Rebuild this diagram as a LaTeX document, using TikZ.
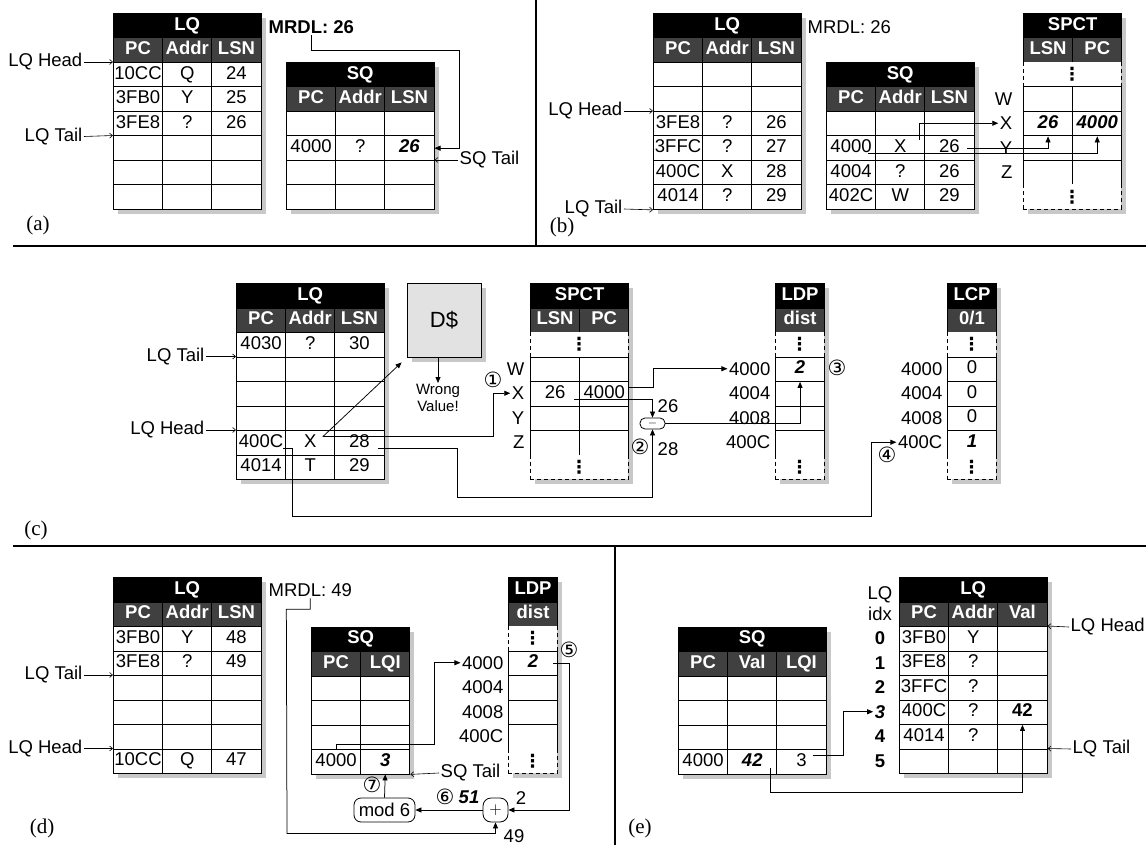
\documentclass[tikz,border=0pt]{standalone}
\usepackage{fontspec}
\setmainfont{Liberation Sans}
\newfontfamily\serf{Liberation Serif}
\newfontfamily\circf{DejaVu Sans}
\usetikzlibrary{arrows.meta,calc}
\definecolor{hdrgray}{HTML}{404040}
\definecolor{shd}{HTML}{C8C8C8}
\definecolor{dgray}{HTML}{E2E2E2}
\newcommand\nf{\fontsize{18.5}{21}\selectfont}
\newcommand\bi[1]{\textbf{\textit{#1}}}
\newcommand\emp{}
\newcommand\vd{{\circf\bfseries\fontsize{18}{18}\selectfont ⋮}}
\newcommand\qshadow[4]{\fill[shd] (#1+5,#2+5) rectangle (#3+5,#4+5);}
\newcommand\qhead[7]{%
  \node[ttl, minimum width={#5*#4pt}] (#1-t) at (#2,#3) {#6};
  \foreach \qh [count=\qj] in {#7} {
    \node[hdr, minimum width=#4pt] (#1-h\qj) at ({#2+(\qj-1)*#4},{#3+24.5}) {\qh};
  }%
}
\newcommand\qrows[5]{%
  \foreach \qrow [count=\qi] in {#5} {
    \foreach \qc [count=\qj] in \qrow {
      \node[cell, minimum width=#4pt] (#1-\qi-\qj) at ({#2+(\qj-1)*#4},{#3+(\qi-1)*24.5}) {\qc};
    }
  }%
}
\newcommand\qdash[5]{%
  \fill[white] (#2,#3) rectangle (#2+#4,#3+24.5);
  \draw[dsh] (#2,#3) -- (#2,#3+24.5) (#2+#4,#3) -- (#2+#4,#3+24.5);
  \ifnum#5=1 \draw[dsh] (#2,#3+24.5) -- (#2+#4,#3+24.5);\fi
  \node[inner sep=0pt] (#1) at (#2+#4/2,#3+12.25) {\vd};
}
\tikzset{
 cell/.style={draw=black, line width=0.9pt, fill=white, inner sep=0pt, minimum height=24.5pt, anchor=north west, text height=13.5pt, text depth=4pt, font=\nf},
 ttl/.style={cell, fill=black, text=white, font=\nf\bfseries},
 hdr/.style={cell, fill=hdrgray, text=white, font=\nf\bfseries},
 lbl/.style={font=\nf, inner sep=1.5pt},
 conn/.style={line width=0.75pt, -{Triangle[length=6pt,width=5pt]}},
 ptr/.style={line width=0.6pt, -{Straight Barb[length=3pt,width=5pt]}},
 sepl/.style={line width=2pt},
 circ/.style={font=\circf\fontsize{21}{21}\selectfont, inner sep=0pt},
 plab/.style={font=\serf\fontsize{21}{23}\selectfont, inner sep=0pt},
 opbox/.style={draw, line width=0.8pt, fill=white, inner sep=0pt, font=\nf},
 dsh/.style={line width=0.8pt, dash pattern=on 4pt off 3pt},
}
\begin{document}
\begin{tikzpicture}[x=1pt,y=-1pt]
\useasboundingbox (0,0) rectangle (1146,845);
\fill[white] (0,0) rectangle (1146,845);
% separators
\draw[sepl] (13,246) -- (1146,246);
\draw[sepl] (13,546) -- (1146,546);
\draw[sepl] (536,0) -- (536,246);
\draw[sepl] (615,546) -- (615,845);

% ================= (a)
\qshadow{113}{13}{260.6}{209}
\qhead{aLQ}{113}{13}{49.2}{3}{LQ}{PC,Addr,LSN}
\qrows{aLQ}{113}{62}{49.2}{{10CC,Q,24},{3FB0,Y,25},{3FE8,?,26},{\emp,\emp,\emp},{\emp,\emp,\emp},{\emp,\emp,\emp}}
\qshadow{286}{62}{433.6}{209}
\qhead{aSQ}{286}{62}{49.2}{3}{SQ}{PC,Addr,LSN}
\qrows{aSQ}{286}{111}{49.2}{{\emp,\emp,\emp},{4000,?,\bi{26}},{\emp,\emp,\emp},{\emp,\emp,\emp}}
\node[lbl, anchor=east] (aLQH) at (84,62) {LQ Head};
\node[lbl, anchor=east] (aLQT) at (84,136.5) {LQ Tail};
\draw[ptr] (aLQH.east) -- (aLQ-1-1.north west);
\draw[ptr] (aLQT.east) -- (aLQ-4-1.north west);
\node[lbl, anchor=west, font=\nf\bfseries] (aMR) at (267,27) {MRDL: 26};
\draw[conn] (aMR.south) |- (459,50) |- (aSQ-2-3.east);
\node[lbl, anchor=west] (aSQT) at (458,160) {SQ Tail};
\draw[ptr] (aSQT.west) -- (aSQ-3-3.north east);
\node[plab] (la) at (38,225) {(a)};

% ================= (b)
\qshadow{653}{13}{800.6}{209}
\qhead{bLQ}{653}{13}{49.2}{3}{LQ}{PC,Addr,LSN}
\qrows{bLQ}{653}{62}{49.2}{{\emp,\emp,\emp},{\emp,\emp,\emp},{3FE8,?,26},{3FFC,?,27},{400C,X,28},{4014,?,29}}
\node[lbl, anchor=east] (bLQH) at (624,111) {LQ Head};
\node[lbl, anchor=east] (bLQT) at (624,209) {LQ Tail};
\draw[ptr] (bLQH.east) -- (bLQ-3-1.north west);
\draw[ptr] (bLQT.east) -- (bLQ-6-1.south west);
\node[lbl, anchor=west] (bMR) at (806,27) {MRDL: 26};
\qshadow{826}{62}{973.6}{209}
\qhead{bSQ}{826}{62}{49.2}{3}{SQ}{PC,Addr,LSN}
\qrows{bSQ}{826}{111}{49.2}{{\emp,\emp,\emp},{4000,X,26},{4004,?,26},{402C,W,29}}
\qshadow{1023}{13}{1121.4}{209}
\qhead{bSP}{1023}{13}{49.2}{2}{SPCT}{LSN,PC}
\qdash{bSPd1}{1023}{62}{98.4}{0}
\qrows{bSP}{1023}{86.5}{49.2}{{\emp,\emp},{\bi{26},\bi{4000}},{\emp,\emp},{\emp,\emp}}
\qdash{bSPd2}{1023}{184.5}{98.4}{1}
\node[lbl, anchor=east] (bW) at (1014,98.75) {W};
\node[lbl, anchor=east] (bX) at (1014,123.25) {X};
\node[lbl, anchor=east] (bY) at (1014,147.75) {Y};
\node[lbl, anchor=east] (bZ) at (1014,172.25) {Z};
\draw[conn] ($(bSQ-2-2.center)+(19,-8)$) |- (bX.west);
\draw[conn] ($(bSQ-2-3.center)+(18,0)$) -| (bSP-2-1.south);
\draw[conn] ($(bSQ-2-1.center)+(17,5)$) -| (bSP-2-2.south);
\node[plab] (lb) at (562,227) {(b)};

% ================= (c)
\qshadow{236}{283}{383.6}{479}
\qhead{cLQ}{236}{283}{49.2}{3}{LQ}{PC,Addr,LSN}
\qrows{cLQ}{236}{332}{49.2}{{4030,?,30},{\emp,\emp,\emp},{\emp,\emp,\emp},{\emp,\emp,\emp},{400C,X,28},{4014,T,29}}
\node[lbl, anchor=east] (cLQT) at (206,356.5) {LQ Tail};
\node[lbl, anchor=east] (cLQH) at (206,430) {LQ Head};
\draw[ptr] (cLQT.east) -- (cLQ-2-1.north west);
\draw[ptr] (cLQH.east) -- (cLQ-5-1.north west);
\fill[shd] (412,288) rectangle (486,362);
\node[draw, fill=dgray, line width=0.9pt, minimum width=74pt, minimum height=74pt, inner sep=0pt, font=\fontsize{22}{24}\selectfont] (cD) at (444,320) {D\$};
\node[font=\fontsize{15}{17}\selectfont, align=center, anchor=north, inner sep=1pt] (cWV) at (438,383) {Wrong\\Value!};
\draw[conn] (cD.south -| cWV.north) -- (cWV.north);
\qshadow{530}{283}{628.4}{479}
\qhead{cSP}{530}{283}{49.2}{2}{SPCT}{LSN,PC}
\qdash{cSPd1}{530}{332}{98.4}{0}
\qrows{cSP}{530}{356.5}{49.2}{{\emp,\emp},{26,4000},{\emp,\emp},{\emp,\emp}}
\qdash{cSPd2}{530}{454.5}{98.4}{1}
\node[lbl, anchor=east] (cW) at (526,368.75) {W};
\node[lbl, anchor=east] (cX) at (526,393.25) {X};
\node[lbl, anchor=east] (cY) at (526,417.75) {Y};
\node[lbl, anchor=east] (cZ) at (526,442.25) {Z};
\qshadow{775}{283}{824.2}{479}
\qhead{cLDP}{775}{283}{49.2}{1}{LDP}{dist}
\qdash{cLDPd1}{775}{332}{49.2}{0}
\qrows{cLDP}{775}{356.5}{49.2}{{\bi{2}},{\emp},{\emp},{\emp}}
\qdash{cLDPd2}{775}{454.5}{49.2}{1}
\node[lbl, anchor=east] (cL1) at (772,368.75) {4000};
\node[lbl, anchor=east] (cL2) at (772,393.25) {4004};
\node[lbl, anchor=east] (cL3) at (772,417.75) {4008};
\node[lbl, anchor=east] (cL4) at (772,442.25) {400C};
\qshadow{947}{283}{996.2}{479}
\qhead{cLCP}{947}{283}{49.2}{1}{LCP}{0/1}
\qdash{cLCPd1}{947}{332}{49.2}{0}
\qrows{cLCP}{947}{356.5}{49.2}{{0},{0},{0},{\bi{1}}}
\qdash{cLCPd2}{947}{454.5}{49.2}{1}
\node[lbl, anchor=east] (cC1) at (944,368.75) {4000};
\node[lbl, anchor=east] (cC2) at (944,393.25) {4004};
\node[lbl, anchor=east] (cC3) at (944,417.75) {4008};
\node[lbl, anchor=east] (cC4) at (944,442.25) {400C};
\node[opbox, rounded corners=5pt, minimum width=25pt, minimum height=11pt, font=\fontsize{12}{12}\selectfont] (cMin) at (652.5,423.5) {$-$};
\coordinate (cXs) at ($(cLQ-5-2.center)+(12.5,-6)$);
\draw[conn] (cXs) -- ($(cD.south west)+(-5,5)$);
\draw[conn] (cXs) -- ++(170.5,0) |- (cX.west);
\draw[conn] ($(cLQ-5-3.center)+(18.5,6)$) -- ++(79,0) |- ($(cMin.south)+(0,68)$) -- (cMin.south);
\draw[conn] ($(cLQ-5-1.center)+(22,6)$) -- ++(9,0) |- ($(cC4.west)+(-25,74)$) |- (cC4.west);
\draw[conn] ($(cSP-2-1.center)+(19,6)$) -| (cMin.north);
\draw[conn] ($(cSP-2-2.east)+(0,-6)$) -- ++(24,0) |- (cL1.west);
\draw[conn] (cMin.east) -| (cLDP-1-1.south);
\node[lbl] (c26) at (668,406) {26};
\node[lbl] (c28) at (668,449) {28};
\node[circ] (c1) at (493,380) {①};
\node[circ] (c2) at (640,447) {②};
\node[circ] (c3) at (837,368) {③};
\node[circ] (c4) at (887,455) {④};
\node[plab] (lc) at (36,530) {(c)};

% ================= (d)
\qshadow{113}{577}{260.6}{773}
\qhead{dLQ}{113}{577}{49.2}{3}{LQ}{PC,Addr,LSN}
\qrows{dLQ}{113}{626}{49.2}{{3FB0,Y,48},{3FE8,?,49},{\emp,\emp,\emp},{\emp,\emp,\emp},{\emp,\emp,\emp},{10CC,Q,47}}
\node[lbl, anchor=east] (dLQT) at (84,675) {LQ Tail};
\node[lbl, anchor=east] (dLQH) at (84,748.5) {LQ Head};
\draw[ptr] (dLQT.east) -- (dLQ-3-1.north west);
\draw[ptr] (dLQH.east) -- (dLQ-6-1.north west);
\node[lbl, anchor=west] (dMR) at (267,590) {MRDL: 49};
\qshadow{311}{626.5}{409.4}{773.5}
\qhead{dSQ}{311}{626.5}{49.2}{2}{SQ}{PC,LQI}
\qrows{dSQ}{311}{675.5}{49.2}{{\emp,\emp},{\emp,\emp},{\emp,\emp},{4000,\bi{3}}}
\node[lbl, anchor=west] (dSQT) at (439,773) {SQ Tail};
\draw[ptr] (dSQT.west) -- (dSQ-4-2.south east);
\qshadow{508}{577}{557.2}{773}
\qhead{dLDP}{508}{577}{49.2}{1}{LDP}{dist}
\qdash{dLDPd1}{508}{626}{49.2}{0}
\qrows{dLDP}{508}{650.5}{49.2}{{\bi{2}},{\emp},{\emp},{\emp}}
\qdash{dLDPd2}{508}{748.5}{49.2}{1}
\node[lbl, anchor=east] (dL1) at (505,662.75) {4000};
\node[lbl, anchor=east] (dL2) at (505,687.25) {4004};
\node[lbl, anchor=east] (dL3) at (505,711.75) {4008};
\node[lbl, anchor=east] (dL4) at (505,736.25) {400C};
\node[opbox, rounded corners=8pt, minimum width=25pt, minimum height=24pt] (dPlus) at (495.5,810) {$+$};
\node[opbox, rounded corners=7pt, minimum width=61pt, minimum height=24pt] (dMod) at (384.5,810) {mod 6};
\draw[conn] (dMR.south) |- ($(dMR.south)+(-24,11)$) -- ($(dPlus.south)+(-208.5,11)$) -| (dPlus.south);
\draw[conn] (dSQ-4-1.north) -- ++(0,-5) -- ++(98.5,0) |- (dL1.west);
\draw[conn] ($(dLDP-1-1.center)+(20,0)$) -- ++(16,0) |- (dPlus.east);
\draw[conn] (dPlus.west) -- (dMod.east);
\draw[conn] (dMod.north) -- (dSQ-4-2.south);
\node[circ] (d5) at (569,650) {⑤};
\node[circ] (d6) at (445,797) {⑥};
\node[circ] (d7) at (372,785) {⑦};
\node[lbl, font=\nf\bfseries\itshape] (d51) at (469,797) {51};
\node[lbl] (d2) at (521,798) {2};
\node[lbl] (d49) at (514,836) {49};
\node[plab] (ld) at (42,828) {(d)};

% ================= (e)
\qshadow{678}{626.5}{825.6}{773.5}
\qhead{eSQ}{678}{626.5}{49.2}{3}{SQ}{PC,Val,LQI}
\qrows{eSQ}{678}{675.5}{49.2}{{\emp,\emp,\emp},{\emp,\emp,\emp},{\emp,\emp,\emp},{4000,\bi{42},3}}
\qshadow{899}{577}{1046.6}{773}
\qhead{eLQ}{899}{577}{49.2}{3}{LQ}{PC,Addr,Val}
\qrows{eLQ}{899}{626}{49.2}{{3FB0,Y,\emp},{3FE8,?,\emp},{3FFC,?,\emp},{400C,?,\textbf{42}},{4014,?,\emp},{\emp,\emp,\emp}}
\node[lbl] (eLQl) at (880,595) {LQ};
\node[lbl] (eIdx) at (880,614) {idx};
\node[lbl, font=\nf\bfseries] (eI0) at (880,638.25) {0};
\node[lbl, font=\nf\bfseries] (eI1) at (880,662.75) {1};
\node[lbl, font=\nf\bfseries] (eI2) at (880,687.25) {2};
\node[lbl, font=\nf\bfseries\itshape] (eI3) at (880,711.75) {3};
\node[lbl, font=\nf\bfseries] (eI4) at (880,736.25) {4};
\node[lbl, font=\nf\bfseries] (eI5) at (880,760.75) {5};
\node[lbl, anchor=west] (eLQH) at (1069,627) {LQ Head};
\node[lbl, anchor=west] (eLQT) at (1071,749) {LQ Tail};
\draw[ptr] (eLQH.west) -- (eLQ-1-3.north east);
\draw[ptr] (eLQT.west) -- (eLQ-6-3.north east);
\draw[conn] ($(eSQ-4-3.center)+(12,-6)$) -- ++(30,0) |- (eI3.west);
\draw[conn] ($(eSQ-4-2.center)+(18,6)$) -- ++(0,25) -| (eLQ-4-3.south);
\node[plab] (le) at (640,828) {(e)};
\end{tikzpicture}
\end{document}
